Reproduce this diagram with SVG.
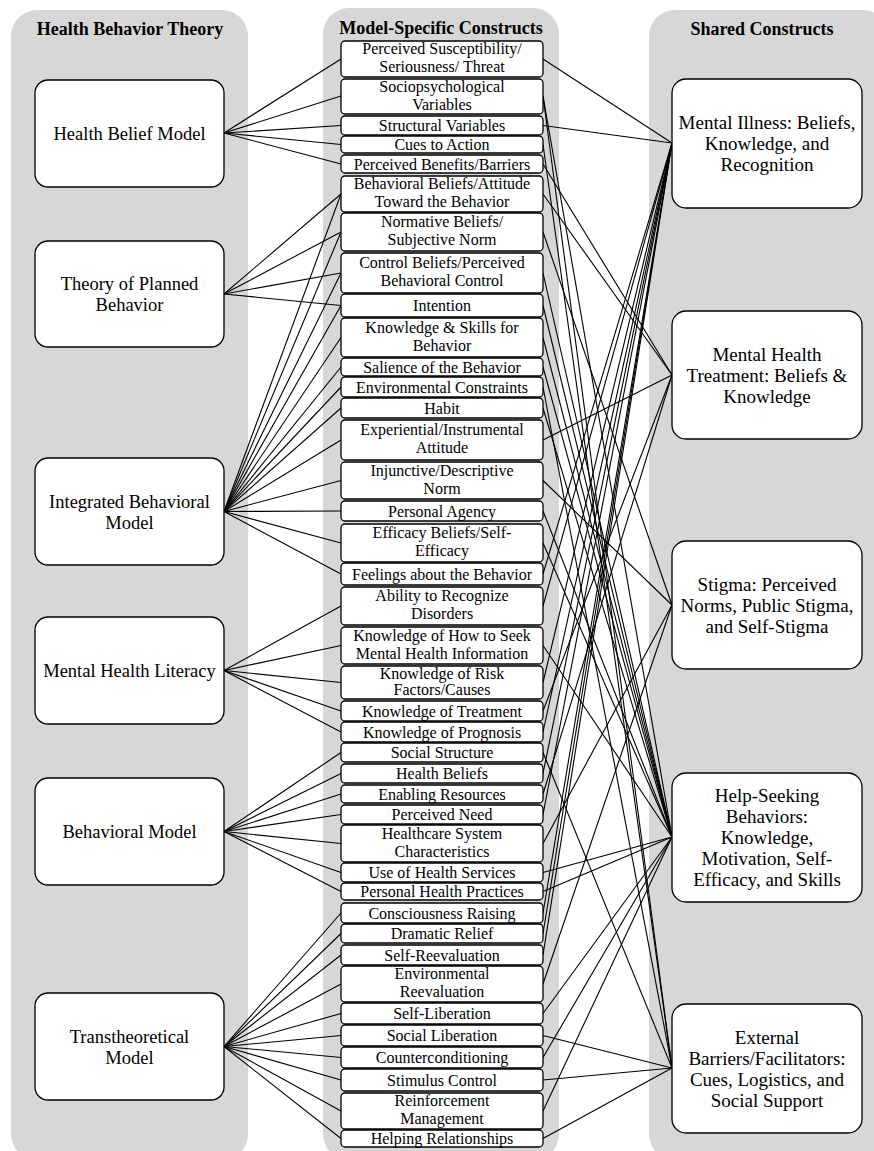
<svg xmlns="http://www.w3.org/2000/svg" width="874" height="1151" viewBox="0 0 874 1151">
<style>
.panel{fill:#d7d7d7;stroke:none}
.hdr{font-family:"Liberation Serif","Times New Roman","DejaVu Serif",serif;font-weight:bold;font-size:18px;text-anchor:middle;fill:#000}
.box{fill:#fff;stroke:#000;stroke-width:1.3}
.t{font-family:"Liberation Serif","Times New Roman","DejaVu Serif",serif;font-size:16px;text-anchor:middle;fill:#000}
.tl{font-family:"Liberation Serif","Times New Roman","DejaVu Serif",serif;font-size:18.5px;text-anchor:middle;fill:#000}
.tr{font-family:"Liberation Serif","Times New Roman","DejaVu Serif",serif;font-size:19px;text-anchor:middle;fill:#000}
.c line{stroke:#000;stroke-width:1.1}
</style>
<rect width="874" height="1151" fill="#fff"/>
<rect class="panel" x="11" y="10" width="237" height="1150" rx="26"/>
<rect class="panel" x="323" y="8" width="236" height="1152" rx="26"/>
<rect class="panel" x="649" y="10" width="240" height="1150" rx="26"/>
<text class="hdr" x="130" y="35">Health Behavior Theory</text>
<text class="hdr" x="441" y="34">Model-Specific Constructs</text>
<text class="hdr" x="762" y="35">Shared Constructs</text>

<g class="c" id="connectors">
<line x1="224" y1="133" x2="341" y2="59"/>
<line x1="224" y1="133" x2="341" y2="96"/>
<line x1="224" y1="133" x2="341" y2="125.5"/>
<line x1="224" y1="133" x2="341" y2="144.5"/>
<line x1="224" y1="133" x2="341" y2="164"/>
<line x1="224" y1="294" x2="341" y2="194"/>
<line x1="224" y1="294" x2="341" y2="232"/>
<line x1="224" y1="294" x2="341" y2="273"/>
<line x1="224" y1="294" x2="341" y2="305.5"/>
<line x1="224" y1="511.5" x2="341" y2="194"/>
<line x1="224" y1="511.5" x2="341" y2="232"/>
<line x1="224" y1="511.5" x2="341" y2="273"/>
<line x1="224" y1="511.5" x2="341" y2="305.5"/>
<line x1="224" y1="511.5" x2="341" y2="337.5"/>
<line x1="224" y1="511.5" x2="341" y2="367"/>
<line x1="224" y1="511.5" x2="341" y2="387"/>
<line x1="224" y1="511.5" x2="341" y2="408"/>
<line x1="224" y1="511.5" x2="341" y2="440"/>
<line x1="224" y1="511.5" x2="341" y2="480.5"/>
<line x1="224" y1="511.5" x2="341" y2="511"/>
<line x1="224" y1="511.5" x2="341" y2="543"/>
<line x1="224" y1="511.5" x2="341" y2="574"/>
<line x1="224" y1="670.5" x2="341" y2="606"/>
<line x1="224" y1="670.5" x2="341" y2="645.5"/>
<line x1="224" y1="670.5" x2="341" y2="682.5"/>
<line x1="224" y1="670.5" x2="341" y2="711"/>
<line x1="224" y1="670.5" x2="341" y2="732"/>
<line x1="224" y1="831.5" x2="341" y2="752.5"/>
<line x1="224" y1="831.5" x2="341" y2="773.5"/>
<line x1="224" y1="831.5" x2="341" y2="794"/>
<line x1="224" y1="831.5" x2="341" y2="814.5"/>
<line x1="224" y1="831.5" x2="341" y2="843.5"/>
<line x1="224" y1="831.5" x2="341" y2="872.5"/>
<line x1="224" y1="831.5" x2="341" y2="891.5"/>
<line x1="224" y1="1046.5" x2="341" y2="913"/>
<line x1="224" y1="1046.5" x2="341" y2="933.5"/>
<line x1="224" y1="1046.5" x2="341" y2="955"/>
<line x1="224" y1="1046.5" x2="341" y2="984"/>
<line x1="224" y1="1046.5" x2="341" y2="1013.5"/>
<line x1="224" y1="1046.5" x2="341" y2="1035.5"/>
<line x1="224" y1="1046.5" x2="341" y2="1057.5"/>
<line x1="224" y1="1046.5" x2="341" y2="1080"/>
<line x1="224" y1="1046.5" x2="341" y2="1111"/>
<line x1="224" y1="1046.5" x2="341" y2="1138.5"/>
<line x1="543" y1="59" x2="672" y2="143"/>
<line x1="543" y1="125.5" x2="672" y2="143"/>
<line x1="543" y1="574" x2="672" y2="143"/>
<line x1="543" y1="606" x2="672" y2="143"/>
<line x1="543" y1="682.5" x2="672" y2="143"/>
<line x1="543" y1="732" x2="672" y2="143"/>
<line x1="543" y1="773.5" x2="672" y2="143"/>
<line x1="543" y1="814.5" x2="672" y2="143"/>
<line x1="543" y1="913" x2="672" y2="143"/>
<line x1="543" y1="933.5" x2="672" y2="143"/>
<line x1="543" y1="955" x2="672" y2="143"/>
<line x1="543" y1="164" x2="672" y2="375"/>
<line x1="543" y1="194" x2="672" y2="375"/>
<line x1="543" y1="440" x2="672" y2="375"/>
<line x1="543" y1="711" x2="672" y2="375"/>
<line x1="543" y1="794" x2="672" y2="375"/>
<line x1="543" y1="232" x2="672" y2="605"/>
<line x1="543" y1="480.5" x2="672" y2="605"/>
<line x1="543" y1="843.5" x2="672" y2="605"/>
<line x1="543" y1="984" x2="672" y2="605"/>
<line x1="543" y1="96" x2="672" y2="837"/>
<line x1="543" y1="273" x2="672" y2="837"/>
<line x1="543" y1="305.5" x2="672" y2="837"/>
<line x1="543" y1="337.5" x2="672" y2="837"/>
<line x1="543" y1="367" x2="672" y2="837"/>
<line x1="543" y1="408" x2="672" y2="837"/>
<line x1="543" y1="511" x2="672" y2="837"/>
<line x1="543" y1="543" x2="672" y2="837"/>
<line x1="543" y1="645.5" x2="672" y2="837"/>
<line x1="543" y1="872.5" x2="672" y2="837"/>
<line x1="543" y1="891.5" x2="672" y2="837"/>
<line x1="543" y1="1013.5" x2="672" y2="837"/>
<line x1="543" y1="1057.5" x2="672" y2="837"/>
<line x1="543" y1="1111" x2="672" y2="837"/>
<line x1="543" y1="96" x2="672" y2="1068"/>
<line x1="543" y1="144.5" x2="672" y2="1068"/>
<line x1="543" y1="387" x2="672" y2="1068"/>
<line x1="543" y1="752.5" x2="672" y2="1068"/>
<line x1="543" y1="1035.5" x2="672" y2="1068"/>
<line x1="543" y1="1080" x2="672" y2="1068"/>
<line x1="543" y1="1138.5" x2="672" y2="1068"/>
</g>

<g id="hbm"><rect class="box" x="35" y="80" width="189" height="107" rx="13"/><text class="tl" x="129.5" y="140">Health Belief Model</text></g>
<g id="tpb"><rect class="box" x="35" y="241" width="189" height="106" rx="13"/><text class="tl" x="129.5" y="290">Theory of Planned</text><text class="tl" x="129.5" y="311">Behavior</text></g>
<g id="ibm"><rect class="box" x="35" y="458" width="189" height="107" rx="13"/><text class="tl" x="129.5" y="507.5">Integrated Behavioral</text><text class="tl" x="129.5" y="528.5">Model</text></g>
<g id="mhl"><rect class="box" x="35" y="617" width="189" height="107" rx="13"/><text class="tl" x="129.5" y="677">Mental Health Literacy</text></g>
<g id="bm"><rect class="box" x="35" y="778" width="189" height="107" rx="13"/><text class="tl" x="129.5" y="838">Behavioral Model</text></g>
<g id="ttm"><rect class="box" x="35" y="993" width="189" height="107" rx="13"/><text class="tl" x="129.5" y="1042.5">Transtheoretical</text><text class="tl" x="129.5" y="1063.5">Model</text></g>

<g id="mi"><rect class="box" x="672" y="79" width="190" height="129" rx="14"/><text class="tr" x="767" y="129">Mental Illness: Beliefs,</text><text class="tr" x="767" y="150">Knowledge, and</text><text class="tr" x="767" y="171">Recognition</text></g>
<g id="mht"><rect class="box" x="672" y="311" width="190" height="128" rx="14"/><text class="tr" x="767" y="361">Mental Health</text><text class="tr" x="767" y="382">Treatment: Beliefs &amp;</text><text class="tr" x="767" y="403">Knowledge</text></g>
<g id="stigma"><rect class="box" x="672" y="541" width="190" height="128" rx="14"/><text class="tr" x="767" y="591">Stigma: Perceived</text><text class="tr" x="767" y="612">Norms, Public Stigma,</text><text class="tr" x="767" y="633">and Self-Stigma</text></g>
<g id="hs"><rect class="box" x="672" y="773" width="190" height="129" rx="14"/><text class="tr" x="767" y="802">Help-Seeking</text><text class="tr" x="767" y="823">Behaviors:</text><text class="tr" x="767" y="844">Knowledge,</text><text class="tr" x="767" y="865">Motivation, Self-</text><text class="tr" x="767" y="886">Efficacy, and Skills</text></g>
<g id="ext"><rect class="box" x="672" y="1004" width="190" height="129" rx="14"/><text class="tr" x="767" y="1043.5">External</text><text class="tr" x="767" y="1064.5">Barriers/Facilitators:</text><text class="tr" x="767" y="1085.5">Cues, Logistics, and</text><text class="tr" x="767" y="1106.5">Social Support</text></g>

<g id="m1"><rect class="box" x="341" y="41" width="202" height="36" rx="4"/><text class="t" x="442" y="54">Perceived Susceptibility/</text><text class="t" x="442" y="72">Seriousness/ Threat</text></g>
<g id="m2"><rect class="box" x="341" y="79" width="202" height="35" rx="4"/><text class="t" x="442" y="91.5">Sociopsychological</text><text class="t" x="442" y="109.5">Variables</text></g>
<g id="m3"><rect class="box" x="341" y="116" width="202" height="19" rx="4"/><text class="t" x="442" y="131">Structural Variables</text></g>
<g id="m4"><rect class="box" x="341" y="136" width="202" height="17" rx="4"/><text class="t" x="442" y="150">Cues to Action</text></g>
<g id="m5"><rect class="box" x="341" y="155" width="202" height="18" rx="4"/><text class="t" x="442" y="169.5">Perceived Benefits/Barriers</text></g>
<g id="m6"><rect class="box" x="341" y="176" width="202" height="36" rx="4"/><text class="t" x="442" y="189">Behavioral Beliefs/Attitude</text><text class="t" x="442" y="207">Toward the Behavior</text></g>
<g id="m7"><rect class="box" x="341" y="213" width="202" height="38" rx="4"/><text class="t" x="442" y="227">Normative Beliefs/</text><text class="t" x="442" y="245">Subjective Norm</text></g>
<g id="m8"><rect class="box" x="341" y="253" width="202" height="40" rx="4"/><text class="t" x="442" y="268">Control Beliefs/Perceived</text><text class="t" x="442" y="286">Behavioral Control</text></g>
<g id="m9"><rect class="box" x="341" y="294" width="202" height="23" rx="4"/><text class="t" x="442" y="311">Intention</text></g>
<g id="m10"><rect class="box" x="341" y="318" width="202" height="39" rx="4"/><text class="t" x="442" y="332.5">Knowledge &amp; Skills for</text><text class="t" x="442" y="350.5">Behavior</text></g>
<g id="m11"><rect class="box" x="341" y="358" width="202" height="18" rx="4"/><text class="t" x="442" y="372.5">Salience  of the Behavior</text></g>
<g id="m12"><rect class="box" x="341" y="377" width="202" height="20" rx="4"/><text class="t" x="442" y="392.5">Environmental  Constraints</text></g>
<g id="m13"><rect class="box" x="341" y="398" width="202" height="20" rx="4"/><text class="t" x="442" y="413.5">Habit</text></g>
<g id="m14"><rect class="box" x="341" y="420" width="202" height="40" rx="4"/><text class="t" x="442" y="435">Experiential/Instrumental</text><text class="t" x="442" y="453">Attitude</text></g>
<g id="m15"><rect class="box" x="341" y="462" width="202" height="37" rx="4"/><text class="t" x="442" y="475.5">Injunctive/Descriptive</text><text class="t" x="442" y="493.5">Norm</text></g>
<g id="m16"><rect class="box" x="341" y="501" width="202" height="20" rx="4"/><text class="t" x="442" y="516.5">Personal Agency</text></g>
<g id="m17"><rect class="box" x="341" y="524" width="202" height="38" rx="4"/><text class="t" x="442" y="538">Efficacy  Beliefs/Self-</text><text class="t" x="442" y="556">Efficacy</text></g>
<g id="m18"><rect class="box" x="341" y="563" width="202" height="22" rx="4"/><text class="t" x="442" y="579.5">Feelings about the Behavior</text></g>
<g id="m19"><rect class="box" x="341" y="587" width="202" height="38" rx="4"/><text class="t" x="442" y="601">Ability to Recognize</text><text class="t" x="442" y="619">Disorders</text></g>
<g id="m20"><rect class="box" x="341" y="627" width="202" height="37" rx="4"/><text class="t" x="442" y="640.5">Knowledge of How to Seek</text><text class="t" x="442" y="658.5">Mental Health Information</text></g>
<g id="m21"><rect class="box" x="341" y="666" width="202" height="33" rx="4"/><text class="t" x="442" y="679">Knowledge of Risk</text><text class="t" x="442" y="695">Factors/Causes</text></g>
<g id="m22"><rect class="box" x="341" y="701" width="202" height="20" rx="4"/><text class="t" x="442" y="716.5">Knowledge of Treatment</text></g>
<g id="m23"><rect class="box" x="341" y="722" width="202" height="20" rx="4"/><text class="t" x="442" y="737.5">Knowledge of Prognosis</text></g>
<g id="m24"><rect class="box" x="341" y="743" width="202" height="19" rx="4"/><text class="t" x="442" y="758">Social  Structure</text></g>
<g id="m25"><rect class="box" x="341" y="764" width="202" height="19" rx="4"/><text class="t" x="442" y="779">Health Beliefs</text></g>
<g id="m26"><rect class="box" x="341" y="785" width="202" height="18" rx="4"/><text class="t" x="442" y="799.5">Enabling Resources</text></g>
<g id="m27"><rect class="box" x="341" y="805" width="202" height="19" rx="4"/><text class="t" x="442" y="820">Perceived Need</text></g>
<g id="m28"><rect class="box" x="341" y="825" width="202" height="37" rx="4"/><text class="t" x="442" y="838.5">Healthcare System</text><text class="t" x="442" y="856.5">Characteristics</text></g>
<g id="m29"><rect class="box" x="341" y="863" width="202" height="19" rx="4"/><text class="t" x="442" y="878">Use of Health Services</text></g>
<g id="m30"><rect class="box" x="341" y="883" width="202" height="17" rx="4"/><text class="t" x="442" y="897">Personal Health Practices</text></g>
<g id="m31"><rect class="box" x="341" y="903" width="202" height="20" rx="4"/><text class="t" x="442" y="918.5">Consciousness Raising</text></g>
<g id="m32"><rect class="box" x="341" y="924" width="202" height="19" rx="4"/><text class="t" x="442" y="939">Dramatic  Relief</text></g>
<g id="m33"><rect class="box" x="341" y="945" width="202" height="20" rx="4"/><text class="t" x="442" y="960.5">Self-Reevaluation</text></g>
<g id="m34"><rect class="box" x="341" y="966" width="202" height="36" rx="4"/><text class="t" x="442" y="979">Environmental</text><text class="t" x="442" y="997">Reevaluation</text></g>
<g id="m35"><rect class="box" x="341" y="1003" width="202" height="21" rx="4"/><text class="t" x="442" y="1019">Self-Liberation</text></g>
<g id="m36"><rect class="box" x="341" y="1025" width="202" height="21" rx="4"/><text class="t" x="442" y="1041">Social Liberation</text></g>
<g id="m37"><rect class="box" x="341" y="1047" width="202" height="21" rx="4"/><text class="t" x="442" y="1063">Counterconditioning</text></g>
<g id="m38"><rect class="box" x="341" y="1069" width="202" height="22" rx="4"/><text class="t" x="442" y="1085.5">Stimulus Control</text></g>
<g id="m39"><rect class="box" x="341" y="1093" width="202" height="36" rx="4"/><text class="t" x="442" y="1106">Reinforcement</text><text class="t" x="442" y="1124">Management</text></g>
<g id="m40"><rect class="box" x="341" y="1130" width="202" height="17" rx="4"/><text class="t" x="442" y="1144">Helping Relationships</text></g>
</svg>
